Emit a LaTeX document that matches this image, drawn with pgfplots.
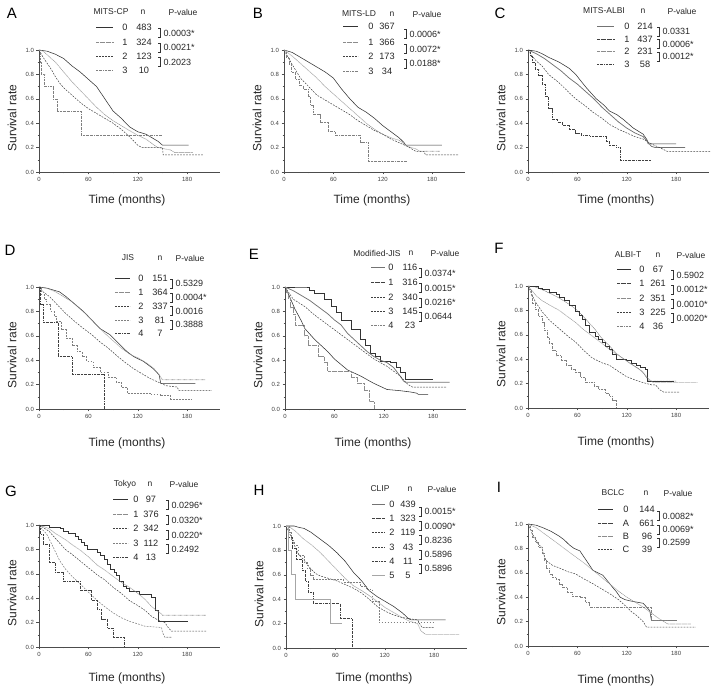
\documentclass[border=0pt]{standalone}
\usepackage{fontspec}
\setmainfont{Liberation Sans}
\usepackage{pgfplots}
\pgfplotsset{compat=1.18}

\pgfplotsset{km/.style={
  scale only axis, width=181pt, height=122pt, anchor=south west,
  xmin=0, xmax=220, ymin=0, ymax=1, clip=false, no markers,
  axis x line*=bottom, axis y line*=left,
  xtick={0,60,120,180}, ytick={0,0.2,0.4,0.6,0.8,1.0},
  minor x tick num=1, minor y tick num=1,
  tick align=outside, major tick length=2.5pt, minor tick length=1.4pt,
  every tick/.style={black!70, line width=0.4pt},
  axis line style={black!70, line width=0.5pt},
  tick label style={font=\fontsize{6}{7}\selectfont, text=black!75},
  xticklabel style={yshift=1pt}, yticklabel style={xshift=1pt},
  /pgf/number format/assume math mode=true,
  yticklabel={\pgfmathprintnumber[fixed,fixed zerofill,precision=1]{\tick}},
}}
\tikzset{
  sk/.style={black!80, line width=0.55pt},
  sg/.style={black!55, line width=0.75pt},
  slg/.style={black!35, line width=0.6pt},
  dk/.style={black!75, line width=0.5pt, dash pattern=on 0.5pt off 0.7pt},
  dg/.style={black!45, line width=0.6pt, dash pattern=on 0.6pt off 0.6pt},
  ek/.style={black!75, line width=0.5pt, dash pattern=on 1.8pt off 1.2pt},
  eg/.style={black!50, line width=0.55pt, dash pattern=on 1.8pt off 1.2pt},
  ak/.style={black!75, line width=0.5pt, dash pattern=on 2pt off 0.9pt on 0.5pt off 0.9pt},
  ag/.style={black!50, line width=0.55pt, dash pattern=on 2pt off 0.9pt on 0.5pt off 0.9pt},
  lbl/.style={font=\fontsize{12}{14}\selectfont, text=black!85, inner sep=0pt},
  lt/.style={font=\fontsize{15}{17}\selectfont, inner sep=0pt},
  hd/.style={font=\fontsize{8.5}{10}\selectfont, text=black!85, inner sep=0pt},
  lg/.style={font=\fontsize{9.2}{11}\selectfont, text=black!85, inner sep=0pt},
  pv/.style={font=\fontsize{9}{11}\selectfont, text=black!85, inner sep=0pt},
}
% legend row: style, line x1, line x2, y, group x, group, n centre x, n
\newcommand\lrow[8]{\draw[#1] (#2pt,-#4pt) -- (#3pt,-#4pt);
  \node[lg] at (#5pt,-#4pt) {#6};
  \node[lg] at (#7pt,-#4pt) {#8};}
% bracket with p-value: x, y mid, text
\newcommand\pbr[3]{\draw[black!80, line width=0.6pt] ({#1pt-1.8pt},{-#2pt+4.5pt}) -- ++(1.8pt,0) -- ++(0,-9pt) -- ++(-1.8pt,0);
  \node[pv,anchor=west] at ({#1pt+3.5pt},-#2pt) {#3};}
% axis labels: axis x, axis bottom, xlabel offset
\newcommand\labs[3]{\node[lbl,rotate=90] at ({#1pt-27pt},{-#2pt+54pt}) {Survival rate};
  \node[lbl] at ({#1pt+88pt},{-#2pt-#3pt}) {Time (months)};}

\begin{document}
\begin{tikzpicture}
\useasboundingbox (0,0) rectangle (716pt,-692pt);

% ---------------- A
\begin{axis}[km, at={(39pt,-172pt)}]
\addplot[sk] coordinates {(0,1) (10,0.99) (20,0.965) (30,0.93) (40,0.87) (50,0.82) (60,0.76) (70,0.70) (80,0.60) (90,0.50) (100,0.44) (110,0.37) (120,0.33) (130,0.31) (140,0.27) (145,0.25) (150,0.22) (182,0.22)};
\addplot[dg] coordinates {(0,1) (5,0.99) (10,0.96) (20,0.90) (30,0.82) (40,0.74) (50,0.67) (60,0.60) (70,0.53) (80,0.47) (90,0.42) (100,0.38) (110,0.34) (120,0.30) (130,0.27) (140,0.22) (145,0.20) (160,0.18) (165,0.16) (187,0.16)};
\addplot[ek] coordinates {(0,1) (5,0.94) (10,0.89) (15,0.84) (20,0.78) (25,0.73) (30,0.69) (40,0.63) (50,0.57) (60,0.52) (70,0.48) (80,0.44) (90,0.40) (100,0.35) (110,0.29) (120,0.22) (125,0.20) (150,0.20) (151,0.14) (200,0.14)};
\addplot[ag, const plot] coordinates {(0,1) (1,0.9) (3,0.8) (7,0.7) (17,0.6) (22,0.5) (51,0.3) (149,0.3)};
\end{axis}
\labs{39}{172}{28}
\node[lt] at (12pt,-13pt) {A};
\node[hd] at (111pt,-12pt) {MITS-CP}; \node[hd] at (143pt,-12pt) {n}; \node[hd] at (183pt,-12pt) {P-value};
\lrow{sk}{96}{113}{27}{125}{0}{144}{483}
\lrow{dg}{96}{113}{42}{125}{1}{144}{324}
\lrow{ek}{96}{113}{56}{125}{2}{144}{123}
\lrow{ag}{96}{113}{70}{125}{3}{144}{10}
\pbr{160}{33}{0.0003*} \pbr{160}{47.5}{0.0021*} \pbr{160}{62}{0.2023}

% ---------------- B
\begin{axis}[km, at={(284pt,-172pt)}]
\addplot[sk] coordinates {(0,1) (10,0.98) (20,0.94) (30,0.90) (40,0.86) (50,0.82) (60,0.77) (70,0.68) (80,0.60) (90,0.53) (100,0.49) (110,0.44) (120,0.38) (130,0.33) (140,0.28) (146,0.24) (148,0.22) (192,0.22)};
\addplot[dg] coordinates {(0,1) (10,0.95) (20,0.89) (30,0.83) (40,0.77) (50,0.70) (60,0.64) (70,0.58) (80,0.52) (90,0.46) (100,0.40) (110,0.35) (120,0.31) (130,0.28) (140,0.26) (150,0.21) (160,0.19) (165,0.17) (190,0.17)};
\addplot[ek] coordinates {(0,1) (5,0.94) (10,0.88) (20,0.77) (30,0.70) (40,0.63) (50,0.59) (60,0.55) (70,0.51) (80,0.47) (90,0.42) (100,0.38) (110,0.34) (120,0.31) (130,0.27) (140,0.24) (150,0.21) (160,0.17) (170,0.17) (172,0.14) (212,0.14)};
\addplot[ag, const plot] coordinates {(0,1) (3,0.94) (6,0.88) (9,0.82) (14,0.76) (18,0.71) (23,0.68) (29,0.62) (32,0.55) (36,0.47) (44,0.41) (54,0.33) (62,0.30) (91,0.30) (93,0.24) (102,0.09) (149,0.09)};
\end{axis}
\labs{284}{172}{28}
\node[lt] at (258pt,-13pt) {B};
\node[hd] at (359pt,-14pt) {MITS-LD}; \node[hd] at (392pt,-14pt) {n}; \node[hd] at (427pt,-14pt) {P-value};
\lrow{sk}{343}{358}{26}{371}{0}{387}{367}
\lrow{dg}{343}{358}{42}{371}{1}{387}{366}
\lrow{ek}{343}{358}{56}{371}{2}{387}{173}
\lrow{ag}{343}{358}{71}{371}{3}{387}{34}
\pbr{406}{34}{0.0006*} \pbr{406}{49}{0.0072*} \pbr{406}{63.5}{0.0188*}

% ---------------- C
\begin{axis}[km, at={(528pt,-172pt)}]
\addplot[sk] coordinates {(0,1) (10,0.99) (17,0.97) (25,0.94) (38,0.90) (50,0.85) (58,0.80) (65,0.74) (71,0.69) (83,0.60) (92,0.55) (99,0.50) (108,0.47) (116,0.43) (128,0.36) (140,0.31) (145,0.26) (146,0.23) (180,0.23)};
\addplot[sg] coordinates {(0,1) (10,0.97) (20,0.93) (30,0.88) (40,0.83) (50,0.77) (60,0.72) (70,0.66) (80,0.60) (90,0.53) (100,0.47) (110,0.41) (120,0.36) (130,0.32) (140,0.29) (145,0.25) (150,0.21) (155,0.20) (191,0.20)};
\addplot[ek] coordinates {(0,1) (5,0.95) (10,0.91) (17,0.87) (25,0.80) (38,0.73) (50,0.65) (58,0.60) (70,0.54) (79,0.49) (90,0.44) (99,0.39) (110,0.35) (120,0.32) (130,0.29) (140,0.27) (150,0.23) (160,0.20) (169,0.17) (222,0.17)};
\addplot[ak, const plot] coordinates {(0,1) (3,0.95) (5,0.90) (9,0.84) (13,0.79) (17,0.72) (21,0.62) (25,0.52) (30,0.43) (36,0.41) (42,0.38) (50,0.35) (58,0.32) (65,0.30) (75,0.29) (95,0.25) (99,0.22) (107,0.20) (112,0.10) (150,0.10)};
\end{axis}
\labs{528}{172}{28}
\node[lt] at (500pt,-13pt) {C};
\node[hd] at (604pt,-11pt) {MITS-ALBI}; \node[hd] at (643pt,-11pt) {n}; \node[hd] at (682pt,-11pt) {P-value};
\lrow{sg}{597}{614}{26}{627}{0}{645}{214}
\lrow{dk}{597}{614}{39}{627}{1}{645}{437}
\lrow{dg}{597}{614}{51}{627}{2}{645}{231}
\lrow{ak}{597}{614}{64}{627}{3}{645}{58}
\pbr{659}{31.5}{0.0331} \pbr{659}{44}{0.0006*} \pbr{659}{56.5}{0.0012*}

% ---------------- D
\begin{axis}[km, at={(39pt,-409pt)}]
\addplot[sk] coordinates {(0,1) (10,0.99) (20,0.97) (25,0.96) (33,0.92) (40,0.88) (54,0.80) (64,0.73) (74,0.66) (86,0.61) (98,0.53) (107,0.47) (115,0.43) (127,0.39) (139,0.33) (146,0.28) (148,0.21) (190,0.21)};
\addplot[dg] coordinates {(0,1) (10,0.99) (20,0.96) (30,0.92) (40,0.88) (50,0.82) (60,0.76) (70,0.69) (80,0.62) (90,0.56) (100,0.50) (110,0.45) (120,0.42) (130,0.38) (140,0.33) (146,0.28) (150,0.24) (202,0.24)};
\addplot[ek] coordinates {(0,1) (5,0.96) (13,0.92) (20,0.87) (33,0.78) (43,0.72) (54,0.66) (64,0.61) (74,0.55) (84,0.50) (94,0.44) (105,0.38) (115,0.33) (125,0.29) (135,0.25) (145,0.22) (155,0.19) (168,0.18) (170,0.15) (210,0.15)};
\addplot[eg, const plot] coordinates {(0,1) (3,0.94) (6,0.90) (9,0.86) (14,0.80) (18,0.76) (21,0.72) (27,0.65) (33,0.58) (40,0.52) (46,0.47) (52,0.43) (58,0.39) (66,0.34) (74,0.30) (84,0.26) (94,0.22) (100,0.18) (107,0.13) (135,0.12) (147,0.11) (160,0.08) (186,0.08)};
\addplot[ak, const plot] coordinates {(0,1) (2,0.857) (5,0.714) (23,0.429) (40,0.286) (79,0)};
\end{axis}
\labs{39}{409}{34}
\node[lt] at (10pt,-250pt) {D};
\node[hd] at (128pt,-258pt) {JIS}; \node[hd] at (160pt,-258pt) {n}; \node[hd] at (190pt,-258pt) {P-value};
\lrow{sk}{115}{130}{278}{141}{0}{160}{151}
\lrow{dg}{115}{130}{292}{141}{1}{160}{364}
\lrow{ek}{115}{130}{306}{141}{2}{160}{337}
\lrow{eg}{115}{130}{320}{141}{3}{160}{81}
\lrow{ak}{115}{130}{333}{141}{4}{160}{7}
\pbr{172}{283.5}{0.5329} \pbr{172}{297.5}{0.0004*} \pbr{172}{311}{0.0016} \pbr{172}{324.5}{0.3888}

% ---------------- E
\begin{axis}[km, at={(285pt,-409pt)}]
\addplot[sk, const plot] coordinates {(0,1) (24,1) (30,0.97) (36,0.95) (48,0.90) (56,0.84) (62,0.79) (68,0.73) (80,0.65) (92,0.57) (98,0.52) (104,0.46) (110,0.43) (116,0.39) (128,0.38) (135,0.34) (140,0.30) (146,0.24) (180,0.24)};
\addplot[sg] coordinates {(0,1) (10,0.97) (20,0.93) (30,0.89) (44,0.82) (52,0.78) (60,0.73) (68,0.69) (76,0.62) (84,0.57) (92,0.52) (100,0.47) (108,0.43) (116,0.40) (124,0.38) (132,0.34) (140,0.27) (144,0.23) (146,0.22) (200,0.22)};
\addplot[ek] coordinates {(0,1) (5,0.95) (10,0.90) (24,0.84) (36,0.77) (44,0.73) (60,0.65) (76,0.57) (92,0.49) (108,0.41) (124,0.35) (140,0.27) (148,0.21) (152,0.19) (155,0.18) (196,0.18)};
\addplot[sk] coordinates {(0,1) (5,0.93) (12,0.82) (20,0.72) (24,0.66) (36,0.57) (44,0.52) (52,0.47) (60,0.41) (76,0.32) (92,0.27) (108,0.21) (124,0.16) (140,0.15) (152,0.14) (160,0.13) (162,0.12) (174,0.12)};
\addplot[dg, const plot] coordinates {(0,1) (2,0.96) (4,0.91) (7,0.83) (10,0.78) (12,0.69) (24,0.60) (28,0.52) (40,0.43) (48,0.38) (52,0.31) (80,0.26) (88,0.21) (96,0.15) (102,0.06) (108,0)};
\end{axis}
\labs{285}{409}{34}
\node[lt] at (254pt,-254pt) {E};
\node[hd] at (377pt,-253pt) {Modified-JIS}; \node[hd] at (411pt,-253pt) {n}; \node[hd] at (445pt,-253pt) {P-value};
\lrow{sg}{371}{385}{267}{391}{0}{410}{116}
\lrow{dk}{371}{385}{282}{391}{1}{410}{316}
\lrow{ek}{371}{385}{297}{391}{2}{410}{340}
\lrow{ek}{371}{385}{311}{391}{3}{410}{145}
\lrow{ag}{371}{385}{325}{391}{4}{410}{23}
\pbr{421}{273}{0.0374*} \pbr{421}{288}{0.0015*} \pbr{421}{302.5}{0.0216*} \pbr{421}{316.5}{0.0644}

% ---------------- F
\begin{axis}[km, at={(528pt,-408pt)}]
\addplot[sk, const plot] coordinates {(0,1) (13,0.985) (17,0.97) (26,0.95) (34,0.93) (38,0.91) (44,0.88) (50,0.84) (58,0.79) (62,0.76) (66,0.73) (70,0.68) (74,0.62) (82,0.59) (86,0.56) (90,0.54) (94,0.51) (99,0.48) (103,0.44) (107,0.40) (119,0.39) (125,0.37) (131,0.35) (137,0.33) (143,0.32) (145,0.22) (178,0.22)};
\addplot[dk] coordinates {(0,1) (10,0.99) (17,0.97) (30,0.93) (38,0.90) (50,0.85) (58,0.81) (66,0.76) (74,0.70) (82,0.64) (90,0.57) (99,0.51) (107,0.45) (115,0.41) (123,0.37) (135,0.32) (141,0.28) (145,0.24) (148,0.22) (180,0.22)};
\addplot[dg] coordinates {(0,1) (5,0.96) (10,0.92) (17,0.88) (30,0.83) (38,0.80) (50,0.74) (58,0.70) (68,0.64) (78,0.59) (90,0.53) (99,0.48) (110,0.43) (119,0.39) (130,0.34) (139,0.30) (145,0.25) (148,0.23) (152,0.21) (206,0.21)};
\addplot[ek] coordinates {(0,1) (4,0.94) (9,0.87) (17,0.79) (26,0.72) (38,0.65) (50,0.58) (58,0.54) (68,0.47) (78,0.41) (90,0.37) (99,0.35) (110,0.30) (119,0.26) (130,0.23) (139,0.21) (150,0.19) (155,0.19) (160,0.15) (165,0.13) (184,0.13)};
\addplot[ag, const plot] coordinates {(0,1) (2,0.97) (4,0.92) (5,0.86) (9,0.81) (13,0.75) (17,0.70) (20,0.64) (23,0.58) (26,0.53) (30,0.47) (34,0.43) (40,0.39) (46,0.35) (52,0.32) (58,0.29) (64,0.25) (70,0.21) (80,0.18) (86,0.15) (94,0.12) (99,0.10) (103,0.06) (107,0)};
\end{axis}
\labs{528}{408}{34}
\node[lt] at (499pt,-248pt) {F};
\node[hd] at (628pt,-255pt) {ALBI-T}; \node[hd] at (658pt,-255pt) {n}; \node[hd] at (691pt,-255pt) {P-value};
\lrow{sk}{617}{631}{269}{642}{0}{658}{67}
\lrow{dk}{617}{631}{283}{642}{1}{658}{261}
\lrow{dg}{617}{631}{298}{642}{2}{658}{351}
\lrow{ek}{617}{631}{312}{642}{3}{658}{225}
\lrow{ag}{617}{631}{326}{642}{4}{658}{36}
\pbr{673}{275}{0.5902} \pbr{673}{289.5}{0.0012*} \pbr{673}{304}{0.0010*} \pbr{673}{318}{0.0020*}

% ---------------- G
\begin{axis}[km, at={(39pt,-647pt)}]
\addplot[sk, const plot] coordinates {(0,1) (12,0.98) (26,0.97) (30,0.95) (36,0.93) (44,0.91) (48,0.88) (51,0.86) (55,0.83) (59,0.80) (71,0.78) (75,0.75) (79,0.72) (83,0.68) (87,0.64) (91,0.61) (94,0.59) (98,0.54) (102,0.50) (106,0.48) (110,0.46) (122,0.43) (137,0.41) (141,0.30) (145,0.21) (181,0.21)};
\addplot[dg] coordinates {(0,1) (5,0.99) (12,0.97) (20,0.93) (32,0.88) (40,0.84) (51,0.79) (60,0.74) (71,0.67) (80,0.63) (90,0.58) (100,0.53) (110,0.49) (120,0.44) (129,0.39) (137,0.33) (145,0.29) (149,0.27) (150,0.26) (203,0.26)};
\addplot[ek] coordinates {(0,1) (5,0.98) (12,0.95) (20,0.89) (32,0.80) (40,0.76) (51,0.70) (60,0.65) (71,0.59) (80,0.55) (90,0.49) (100,0.44) (110,0.38) (120,0.34) (129,0.30) (137,0.25) (145,0.22) (153,0.20) (157,0.16) (161,0.13) (203,0.13)};
\addplot[eg] coordinates {(0,1) (3,0.97) (9,0.93) (15,0.85) (20,0.78) (25,0.71) (32,0.64) (40,0.58) (51,0.51) (60,0.45) (71,0.38) (80,0.33) (90,0.28) (100,0.24) (110,0.21) (120,0.19) (129,0.17) (149,0.16) (150,0.12) (153,0.08) (161,0.08)};
\addplot[ak, const plot] coordinates {(0,1) (2,0.923) (5,0.846) (12,0.692) (20,0.615) (30,0.538) (50,0.462) (63,0.385) (71,0.308) (76,0.231) (83,0.154) (90,0.077) (104,0)};
\end{axis}
\labs{39}{647}{31}
\node[lt] at (11pt,-491pt) {G};
\node[hd] at (125pt,-484pt) {Tokyo}; \node[hd] at (150pt,-484pt) {n}; \node[hd] at (184pt,-484pt) {P-value};
\lrow{sk}{113}{128}{499}{136}{0}{151}{97}
\lrow{dg}{113}{128}{514}{136}{1}{151}{376}
\lrow{ek}{113}{128}{528}{136}{2}{151}{342}
\lrow{eg}{113}{128}{543}{136}{3}{151}{112}
\lrow{ak}{113}{128}{557}{136}{4}{151}{13}
\pbr{168}{505}{0.0296*} \pbr{168}{520}{0.0320*} \pbr{168}{535}{0.0220*} \pbr{168}{549}{0.2492}

% ---------------- H
\begin{axis}[km, at={(286pt,-648pt)}]
\addplot[sk] coordinates {(0,1) (10,1) (15,0.99) (22,0.98) (30,0.95) (42,0.89) (52,0.84) (62,0.78) (72,0.71) (82,0.62) (92,0.55) (101,0.47) (111,0.42) (121,0.38) (131,0.34) (141,0.29) (146,0.26) (149,0.24) (152,0.23) (194,0.23)};
\addplot[dg] coordinates {(0,1) (5,0.99) (11,0.96) (22,0.89) (32,0.84) (42,0.78) (52,0.71) (62,0.64) (72,0.57) (82,0.51) (92,0.47) (101,0.43) (111,0.38) (121,0.33) (131,0.29) (141,0.25) (150,0.22) (160,0.20) (164,0.14) (170,0.11) (211,0.11)};
\addplot[ek] coordinates {(0,1) (3,0.96) (7,0.90) (11,0.83) (15,0.77) (22,0.72) (30,0.65) (36,0.61) (42,0.59) (52,0.57) (62,0.55) (72,0.52) (82,0.49) (92,0.45) (101,0.40) (111,0.34) (121,0.30) (131,0.27) (141,0.25) (150,0.24) (160,0.23) (165,0.17) (180,0.17)};
\addplot[eg, const plot] coordinates {(0,1) (4,0.95) (7,0.88) (10,0.84) (15,0.76) (22,0.70) (26,0.65) (30,0.60) (33,0.56) (62,0.56) (70,0.54) (90,0.51) (97,0.48) (105,0.38) (113,0.21) (180,0.21)};
\addplot[ak, const plot] coordinates {(0,1) (3,0.909) (7,0.818) (12,0.727) (20,0.636) (24,0.545) (27,0.455) (33,0.364) (66,0.242) (80,0)};
\addplot[slg, const plot] coordinates {(0,1) (3,0.8) (7,0.6) (11,0.4) (54,0.2) (68,0.2)};
\end{axis}
\labs{286}{648}{30}
\node[lt] at (259pt,-490pt) {H};
\node[hd] at (380pt,-489pt) {CLIP}; \node[hd] at (410pt,-489pt) {n}; \node[hd] at (442pt,-489pt) {P-value};
\lrow{sg}{372}{385}{504}{392}{0}{408}{439}
\lrow{dk}{372}{385}{518}{392}{1}{408}{323}
\lrow{ek}{372}{385}{532}{392}{2}{408}{119}
\lrow{ek}{372}{385}{547}{392}{3}{408}{43}
\lrow{ak}{372}{385}{561}{392}{4}{408}{11}
\lrow{slg}{372}{385}{575}{392}{5}{408}{5}
\pbr{421}{511.5}{0.0015*} \pbr{421}{526}{0.0090*} \pbr{421}{540}{0.8236} \pbr{421}{554.5}{0.5896} \pbr{421}{568.5}{0.5896}

% ---------------- I
\begin{axis}[km, at={(528pt,-646pt)}]
\addplot[sk] coordinates {(0,1) (10,0.99) (18,0.97) (28,0.94) (38,0.90) (44,0.87) (50,0.83) (56,0.80) (63,0.78) (67,0.74) (71,0.70) (75,0.66) (79,0.62) (85,0.60) (91,0.58) (97,0.53) (103,0.48) (108,0.44) (112,0.40) (118,0.38) (124,0.37) (132,0.36) (140,0.35) (144,0.32) (148,0.29) (150,0.21) (181,0.21)};
\addplot[dg] coordinates {(0,1) (10,0.97) (18,0.93) (30,0.87) (38,0.83) (50,0.77) (58,0.73) (70,0.67) (79,0.62) (90,0.56) (99,0.51) (110,0.45) (120,0.40) (130,0.36) (140,0.32) (150,0.27) (158,0.23) (165,0.20) (170,0.18) (198,0.18)};
\addplot[ek] coordinates {(0,1) (3,0.96) (5,0.92) (9,0.88) (13,0.83) (17,0.81) (19,0.75) (22,0.70) (30,0.66) (38,0.64) (48,0.61) (58,0.59) (68,0.55) (79,0.51) (89,0.47) (99,0.43) (110,0.38) (120,0.32) (126,0.28) (132,0.25) (140,0.20) (144,0.155) (204,0.155)};
\addplot[ag, const plot] coordinates {(0,1) (3,0.95) (5,0.89) (9,0.85) (13,0.81) (17,0.76) (20,0.70) (22,0.64) (26,0.59) (30,0.56) (34,0.55) (38,0.51) (42,0.48) (48,0.44) (54,0.41) (64,0.40) (70,0.36) (75,0.32) (148,0.32) (150,0.21) (170,0.21)};
\end{axis}
\labs{528}{646}{34}
\node[lt] at (499pt,-487pt) {I};
\node[hd] at (613pt,-493pt) {BCLC}; \node[hd] at (646pt,-493pt) {n}; \node[hd] at (678pt,-493pt) {P-value};
\lrow{sk}{598}{613}{509}{626}{0}{647}{144}
\lrow{dk}{598}{613}{523}{626}{A}{647}{661}
\lrow{dg}{598}{613}{536}{626}{B}{647}{96}
\lrow{ek}{598}{613}{549}{626}{C}{647}{39}
\pbr{659}{516}{0.0082*} \pbr{659}{529.5}{0.0069*} \pbr{659}{542.5}{0.2599}
\end{tikzpicture}
\end{document}
